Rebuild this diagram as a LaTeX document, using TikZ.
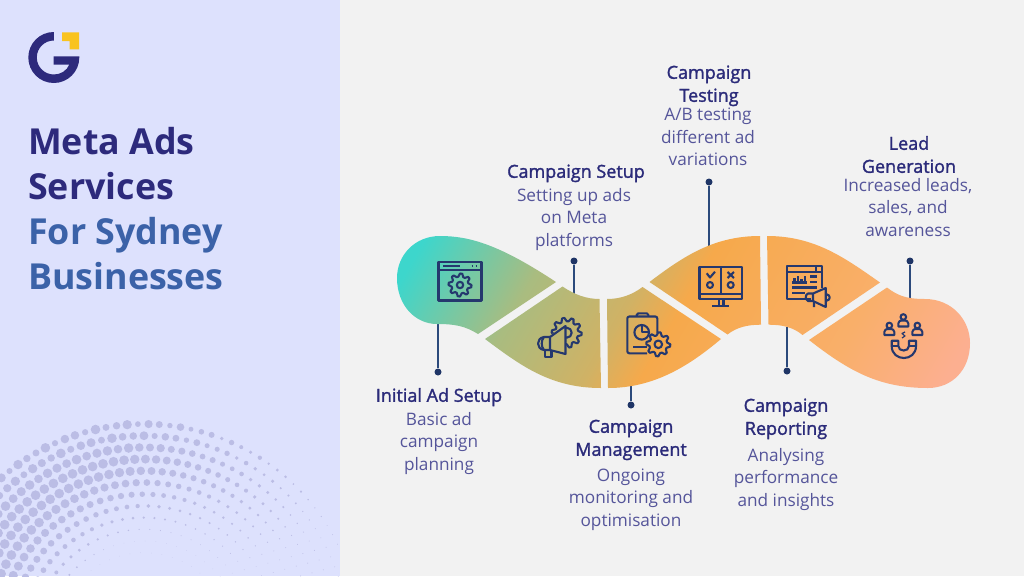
\documentclass[tikz,border=0pt]{standalone}
\usepackage{fontspec}
\setmainfont{Open Sans}
\newfontfamily\titlefont{Open Sans}
\newfontfamily\headfont{Open Sans}[FakeBold=1.6]
\definecolor{panel}{HTML}{DDE1FD}
\definecolor{pagebg}{HTML}{F2F2F2}
\definecolor{halftone}{HTML}{BBBDE5}
\definecolor{navy}{HTML}{2D2A7C}
\definecolor{midblue}{HTML}{3B62A8}
\definecolor{bodytxt}{HTML}{55559A}
\definecolor{hdtxt}{HTML}{2B2B7A}
\definecolor{linecol}{HTML}{2C4A7C}
\definecolor{dotcol}{HTML}{1F3566}
\definecolor{iconcol}{HTML}{25386E}
\definecolor{goldc}{HTML}{F9C31F}
\definecolor{ga}{HTML}{3DD6CC}
\definecolor{gb}{HTML}{A9BC80}
\definecolor{gc}{HTML}{D0B265}
\definecolor{gd}{HTML}{F6A94B}
\definecolor{ge}{HTML}{F9AF6A}
\definecolor{gf}{HTML}{FCAF90}
\pgfdeclarehorizontalshading{ribbon}{100bp}{color(0bp)=(ga); color(31.1bp)=(ga); color(39.4bp)=(gb); color(46.5bp)=(gc); color(50bp)=(gd); color(61.7bp)=(ge); color(69.4bp)=(gf); color(100bp)=(gf)}
\tikzset{
  titletxt/.style={anchor=base west,inner sep=0pt,font=\titlefont\bfseries\fontsize{35.8}{40}\selectfont},
  headtxt/.style={anchor=north,inner sep=0pt,align=center,text=hdtxt,font=\headfont\fontsize{18}{23}\selectfont},
  bodytext/.style={anchor=north,inner sep=0pt,align=center,text=bodytxt,font=\fontsize{17.2}{22.5}\selectfont},
  pin/.style={circle,fill=dotcol,inner sep=0pt,minimum size=7pt},
  conn/.style={draw=linecol,line width=1.4pt},
  icon/.style={draw=iconcol,line width=2.1pt,line join=round,fill=none},
}
\newcommand{\gearshape}[5]{% cx cy outer inner teeth
  \draw[icon] plot[domain=0:360,samples=\the\numexpr4*#5+1\relax]
   ({#1+(sin(#5*\x+45)>0?#3:#4)*cos(\x)},{#2+(sin(#5*\x+45)>0?#3:#4)*sin(\x)}) -- cycle;}
\newcommand{\person}[2]{%
  \draw[icon] (#1,#2-3.5) circle[radius=2.8pt];
  \draw[icon] (#1-5,#2+6) -- (#1-5,#2+3) .. controls (#1-5,#2+1) and (#1-3,#2) .. (#1-2,#2) -- (#1+2,#2) .. controls (#1+3,#2) and (#1+5,#2+1) .. (#1+5,#2+3) -- (#1+5,#2+6) -- cycle;}
\begin{document}
\begin{tikzpicture}[x=1pt,y=-1pt]
\useasboundingbox (0,0) rectangle (1024,576);
\fill[pagebg] (0,0) rectangle (1024,576);
\fill[panel] (0,0) rectangle (340,576);
% halftone
\begin{scope}
\clip (0,0) rectangle (340,576);
\foreach \i in {0,...,11}{
  \pgfmathsetmacro\rr{216-11.7*\i}
  \pgfmathsetmacro\da{10.7/\rr*57.2958}
  \pgfmathtruncatemacro\nn{155/\da}
  \foreach \k in {0,...,\nn}{
    \pgfmathsetmacro\aa{15+\k*\da}
    \pgfmathsetmacro\fa{max(0.05,min(1,(\aa-30)/65))}
    \pgfmathsetmacro\rz{105-0.4*max(\aa-90,0)}
    \pgfmathsetmacro\ga{max(0,min(1,(\rr-\rz)/70))}
    \pgfmathsetmacro\va{1-0.4*(0.5+0.5*sin(\k*137+\i*59))*max(0,min(1,(\rr-185)/25))}
    \pgfmathsetmacro\ss{4.6*\fa*\ga*\va+0.25}
    \fill[halftone] ({144+\rr*cos(\aa)},{640-\rr*sin(\aa)}) circle[radius=\ss pt];
  }
}
\end{scope}
% logo
\fill[navy] (53.8,32) arc[start angle=90,end angle=360,radius=25.5pt] -- (79.3,56.3) -- (53.6,56.3) -- (53.6,64.5) -- (69.3,64.5)
  .. controls (66.8,71) and (60.3,74.5) .. (53.8,74.5) arc[start angle=270,end angle=90,radius=17pt] -- cycle;
\fill[goldc] (62,32.3) -- (79,32.3) -- (79,49.3) -- (69.5,49.3) -- (69.5,41) -- (62,41) -- cycle;
% title
\node[titletxt,text=navy] (t1) at (28,154) {Meta Ads};
\node[titletxt,text=navy] (t2) at (28,199) {Services};
\node[titletxt,text=midblue] (t3) at (28,244) {For Sydney};
\node[titletxt,text=midblue] (t4) at (28,289) {Businesses};
% connectors
\node[pin] (d1) at (438,372) {}; \coordinate (e1) at (438,322);
\node[pin] (d2) at (574,261) {}; \coordinate (e2) at (574,295);
\node[pin] (d3) at (631,405) {}; \coordinate (e3) at (631,385);
\node[pin] (d4) at (709,182) {}; \coordinate (e4) at (709,248);
\node[pin] (d5) at (787,371) {}; \coordinate (e5) at (787,327);
\node[pin] (d6) at (910,261) {}; \coordinate (e6) at (910,300);
\foreach \n in {1,...,6}{\draw[conn] (d\n) -- (e\n);}
% ribbon
\begin{scope}
\clip (556,282) .. controls (500,245) and (470,236) .. (440,236) .. controls (415,236) and (397,255) .. (397,278) .. controls (397,305) and (415,324) .. (437,324) .. controls (455,324) and (465,326) .. (478,334) -- cycle
 (485,339) -- (562.5,286.5) .. controls (575,295) and (587,299) .. (599.5,299) -- (601,388) .. controls (550,388) and (520,365) .. (485,339) -- cycle
 (607,299) .. controls (620,299) and (632,295) .. (642.5,287) -- (721,339) .. controls (690,365) and (655,388) .. (608,388) -- cycle
 (649.5,282) .. controls (685,255) and (715,236) .. (760,236) -- (761,324.7) .. controls (748,324.7) and (737,327) .. (727.5,334.5) -- cycle
 (767,236) .. controls (815,236) and (845,258) .. (880,282.5) -- (802.5,335) .. controls (793,327) and (782,324.7) .. (768.5,324.7) -- cycle
 (809,340) -- (887,287.5) .. controls (897,295) and (905,299) .. (925,299) .. controls (952,299) and (970,320) .. (970,343) .. controls (970,370) and (952,388) .. (928,388) .. controls (880,388) and (850,372) .. (809,340) -- cycle;
\begin{scope}[transform canvas={rotate around={-30:(680,310)}}]
\shade[shading=ribbon] (340,-100) rectangle (1020,720);
\end{scope}
\end{scope}
% icon 1
\draw[icon] (438.5,262) rectangle (481.5,300.5);
\draw[icon] (438.5,270) -- (481.5,270);
\draw[icon] (443,266) -- (460,266) (471.5,266) -- (473,266) (475.5,266) -- (477,266);
\gearshape{460}{285}{11.5}{8.5}{8}
\draw[icon] (460,285) circle[radius=3.2pt];
% icon 2
\begin{scope}[even odd rule]
\clip (530,310) rectangle (590,365) (565.5,325) -- (549,336) -- (549,352) -- (565.5,355) -- cycle;
\gearshape{566.7}{332.7}{15}{11.5}{10}
\draw[icon] (566.7,332.7) circle[radius=5pt];
\end{scope}
\draw[icon] (565.5,326) -- (565.5,354) -- (550,350) -- (550,337) -- cycle;
\draw[icon] (550,337) -- (544,337) .. controls (536,338) and (536,349) .. (544,350) -- (550,350);
\draw[icon] (544,337) .. controls (541,340) and (541,347) .. (544,350);
\draw[icon] (545,350) -- (545,357) -- (551.5,357) -- (551.5,350);
% icon 3
\draw[icon,rounded corners=2pt] (657.3,333) -- (657.3,316.5) -- (627.3,316.5) -- (627.3,353.3) -- (647,353.3);
\draw[icon,rounded corners=1.5pt] (636.7,316.5) -- (636.7,313.3) -- (648.3,313.3) -- (648.3,316.5);
\draw[icon] (641.7,332.3) circle[radius=7.3pt];
\draw[icon] (641.7,325) -- (641.7,332.3) -- (649,332.3);
\draw[icon] (633.3,346.7) -- (647,346.7);
\gearshape{658.3}{344.3}{12}{9}{8}
\draw[icon] (658.3,344.3) circle[radius=3.8pt];
% icon 4
\draw[icon] (699.5,266.7) rectangle (742.3,299);
\draw[icon] (721,266.7) -- (721,294) (699.5,294) -- (742.3,294);
\draw[icon] (706.7,273.3) -- (710,277.5) -- (715,271.7);
\draw[icon] (710,285) circle[radius=3pt] (730.7,285) circle[radius=3pt];
\draw[icon] (727.5,272) -- (734,278) (734,272) -- (727.5,278);
\draw[icon] (719,299) -- (719,306) (723.5,299) -- (723.5,306) (712.3,306) -- (729.3,306);
% icon 5
\draw[icon] (811,298.7) -- (786.7,298.7) -- (786.7,266) -- (821.7,266) -- (821.7,288);
\draw[icon] (786.7,271.7) -- (821.7,271.7) (816,266) -- (816,271.7);
\draw[icon] (792,282.5) -- (807,282.5);
\draw[icon] (794.5,282) -- (794.5,278) (798,282) -- (798,275.5) (801.5,282) -- (801.5,278.5) (805,282) -- (805,276);
\draw[icon] (810,276.5) -- (817,276.5) (810,282) -- (817,282) (792,287.5) -- (817,287.5) (792,293) -- (805,293);
\draw[icon] (825.7,288) -- (825.7,307) -- (813,301) -- (808,301) .. controls (805,299) and (805,295) .. (808,293.5) -- (813,293.5) -- cycle;
\draw[icon] (813,293.5) -- (813,301) (814,302) -- (814,307) (826,294) .. controls (831,295) and (831,300) .. (826,301);
% icon 6
\person{903.3}{320.5}
\person{889.3}{329}
\person{917.3}{329}
\draw[icon,line width=1.2pt] (905,332) -- (902,333.5) -- (905,336) -- (902,338);
\draw[icon] (891.7,340.7) -- (898.3,340.7) -- (898.3,346) .. controls (898.3,352) and (909,352) .. (909,346) -- (909,340.7) -- (916,340.7) -- (916,346) .. controls (916,362) and (891.7,362) .. (891.7,346) -- cycle;
\draw[icon] (891.7,346) -- (898.3,346) (909,346) -- (916,346);
% labels
\node[headtxt] (h1) at (439,385.5) {\strut Initial Ad Setup};
\node[bodytext] (b1) at (439,409.5) {\strut Basic ad\\campaign\\planning};
\node[headtxt] (h2) at (576,161.5) {\strut Campaign Setup};
\node[bodytext] (b2) at (574,185.5) {\strut Setting up ads\\on Meta\\platforms};
\node[headtxt] (h3) at (631,416.5) {\strut Campaign\\Management};
\node[bodytext] (b3) at (631,465.5) {\strut Ongoing\\monitoring and\\optimisation};
\node[headtxt] (h4) at (709,62.5) {\strut Campaign\\Testing};
\node[bodytext] (b4) at (708,105) {\strut A/B testing\\different ad\\variations};
\node[headtxt] (h5) at (786,395.5) {\strut Campaign\\Reporting};
\node[bodytext] (b5) at (786,445.5) {\strut Analysing\\performance\\and insights};
\node[headtxt] (h6) at (909,133.5) {\strut Lead\\Generation};
\node[bodytext] (b6) at (908,175.5) {\strut Increased leads,\\sales, and\\awareness};
\end{tikzpicture}
\end{document}
